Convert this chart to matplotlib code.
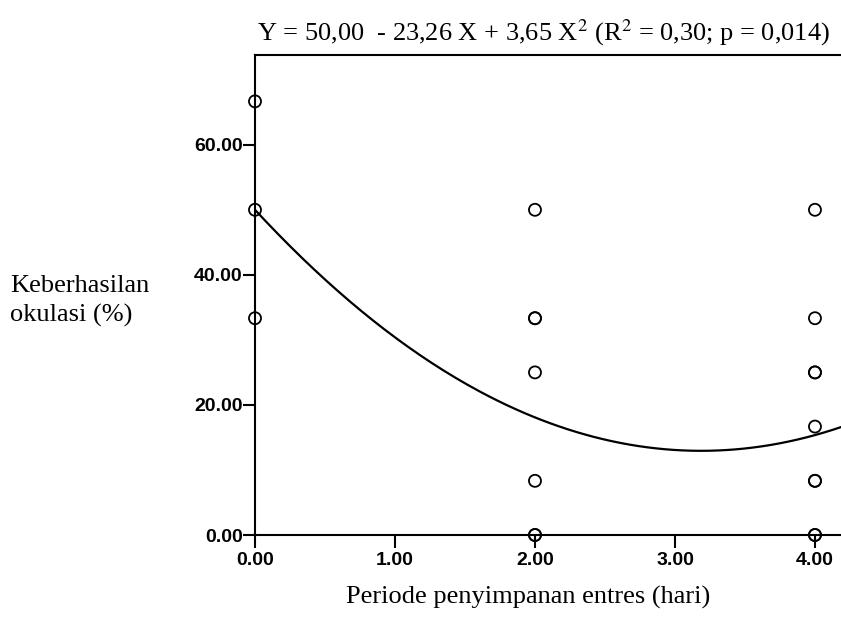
import numpy as np
import matplotlib.pyplot as plt

# data pengamatan (periode hari, keberhasilan %)
periode = [0, 0, 0,
           2, 2, 2, 2, 2, 2, 2,
           4, 4, 4, 4, 4, 4, 4, 4, 4]
keberhasilan = [66.67, 50.0, 33.33,
                50.0, 33.33, 33.33, 25.0, 8.33, 0.0, 0.0,
                50.0, 33.33, 25.0, 25.0, 16.67, 8.33, 8.33, 0.0, 0.0]

# koefisien regresi kuadratik
b0, b1, b2 = 50.00, -23.26, 3.65

x_ticks = [0, 1, 2, 3, 4]
y_ticks = [0, 20, 40, 60]

fig = plt.figure(figsize=(8.41, 6.38), dpi=100)
ax = fig.add_axes([255 / 841, 103 / 638, 1 - 255 / 841, 480 / 638])

xs = np.linspace(0, 4.19, 200)
ax.plot(xs, b0 + b1 * xs + b2 * xs ** 2, color='black', lw=1.6)
ax.scatter(periode, keberhasilan, s=75, facecolors='none', edgecolors='black',
           linewidths=1.3, clip_on=False, zorder=3)

ax.set_xlim(0, 4.186)
ax.set_ylim(0, 73.8)
ax.set_xticks(x_ticks)
ax.set_yticks(y_ticks)
ax.set_xticklabels(['%.2f' % v for v in x_ticks])
ax.set_yticklabels(['%.2f' % v for v in y_ticks])
for lbl in ax.get_xticklabels() + ax.get_yticklabels():
    lbl.set_fontfamily('Liberation Sans')
    lbl.set_fontweight('bold')
    lbl.set_fontsize(14)
ax.tick_params(direction='out', length=9, width=1.5)
ax.tick_params(axis='x', pad=3)
ax.tick_params(axis='y', pad=0)
ax.spines['right'].set_visible(False)
for s in ['left', 'bottom', 'top']:
    ax.spines[s].set_linewidth(1.5)

fig.text(257 / 841, 1 - 33 / 638, 'Y = 50,00  - 23,26 X + 3,65 X$^2$ (R$^2$ = 0,30; p = 0,014)',
         family='Liberation Serif', fontsize=19, ha='left', va='center',
         math_fontfamily='stix')
fig.text(10 / 841, 1 - 301 / 638, 'Keberhasilan\nokulasi (%)', family='Liberation Serif',
         fontsize=19, ha='left', va='center', linespacing=1.4)
fig.text(528 / 841, 1 - 597 / 638, 'Periode penyimpanan entres (hari)',
         family='Liberation Serif', fontsize=19, ha='center', va='center')

fig.savefig('out.png', dpi=100)
